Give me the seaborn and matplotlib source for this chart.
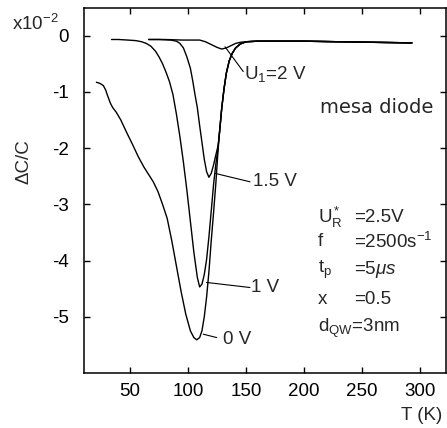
import matplotlib
matplotlib.use("Agg")
import matplotlib.pyplot as plt
import seaborn as sns
import pandas as pd

# ---- data ----
T_0V = [21, 24, 27, 29, 31, 33, 35, 38, 42, 47, 52, 57, 62, 66, 70, 74, 78, 82, 86, 90, 94, 98,
        102, 105, 107.5, 110, 112, 114, 116, 118, 120, 122, 124, 125.5, 127, 129, 131, 133, 135.5,
        138, 141, 145, 150, 160, 180, 200, 230, 260, 293]
C_0V = [-0.83, -0.85, -0.89, -0.97, -1.09, -1.20, -1.28, -1.36, -1.50, -1.72, -1.93, -2.15, -2.34,
        -2.47, -2.60, -2.77, -3.00, -3.25, -3.65, -4.10, -4.55, -4.95, -5.25, -5.37, -5.41, -5.37,
        -5.25, -5.00, -4.65, -4.20, -3.65, -3.15, -2.62, -2.15, -1.75, -1.30, -0.95, -0.67, -0.45,
        -0.32, -0.22, -0.15, -0.11, -0.10, -0.10, -0.10, -0.11, -0.12, -0.13]

T_1V = [34, 40, 48, 55, 60, 64, 68, 72, 75, 78, 81, 84, 87, 90, 93, 96, 99, 102, 105, 108, 110,
        112, 114, 116, 118, 120, 122, 124, 125.5, 127, 129, 131, 133, 135.5, 138, 141, 145, 150,
        160, 180, 200, 230, 260, 293]
C_1V = [-0.07, -0.07, -0.08, -0.09, -0.11, -0.14, -0.19, -0.28, -0.38, -0.50, -0.65, -0.82, -1.05,
        -1.40, -1.80, -2.25, -2.75, -3.30, -3.85, -4.30, -4.47, -4.42, -4.25, -3.98, -3.58, -3.12,
        -2.65, -2.28, -2.05, -1.75, -1.30, -0.95, -0.67, -0.45, -0.32, -0.22, -0.15, -0.11, -0.10,
        -0.10, -0.10, -0.11, -0.12, -0.13]

T_15V = [66, 75, 85, 90, 93, 96, 99, 102, 104, 106, 108, 110, 112, 114, 116, 118, 120, 122, 124,
         126, 127.5, 129, 131, 133, 135.5, 138, 141, 145, 150, 160, 180, 200, 230, 260, 293]
C_15V = [-0.07, -0.07, -0.08, -0.10, -0.14, -0.22, -0.38, -0.58, -0.80, -1.05, -1.28, -1.60, -1.90,
         -2.20, -2.42, -2.52, -2.45, -2.30, -2.12, -1.95, -1.65, -1.30, -0.95, -0.67, -0.45, -0.32,
         -0.22, -0.15, -0.11, -0.10, -0.10, -0.10, -0.11, -0.12, -0.13]

T_2V = [66, 80, 95, 110, 115, 121, 125, 129, 133, 137, 141, 145, 150, 160, 180, 200, 230, 260, 293]
C_2V = [-0.07, -0.07, -0.08, -0.08, -0.11, -0.17, -0.21, -0.24, -0.22, -0.18, -0.14, -0.12, -0.11,
        -0.10, -0.10, -0.10, -0.11, -0.12, -0.13]

curve_labels = ["0 V", "1 V", "1.5 V", "U$_1$=2 V"]
# leader lines: (start T, start C) -> (end T, end C), text position
leader_start = [(113.1, -5.31), (116.0, -4.39), (123.2, -2.45), (131.9, -0.20)]
leader_end = [(124.7, -5.37), (153.4, -4.48), (153.4, -2.60), (147.6, -0.64)]
label_pos = [(130.5, -5.41), (154.0, -4.48), (156.0, -2.60), (148.0, -0.68)]

x_ticks = [50, 100, 150, 200, 250, 300]
y_ticks = [-5, -4, -3, -2, -1, 0]

# ---- build long table ----
frames = []
for name, T, C in [("0V", T_0V, C_0V), ("1V", T_1V, C_1V), ("1.5V", T_15V, C_15V), ("2V", T_2V, C_2V)]:
    frames.append(pd.DataFrame({"T": T, "dC": C, "U": name}))
df = pd.concat(frames, ignore_index=True)

sns.set_style("ticks")
plt.rcParams["font.family"] = ["Liberation Sans", "DejaVu Sans"]
plt.rcParams["mathtext.fontset"] = "custom"
plt.rcParams["mathtext.rm"] = "Liberation Sans"
plt.rcParams["mathtext.it"] = "Liberation Sans:italic"
plt.rcParams["mathtext.default"] = "regular"

fig = plt.figure(figsize=(4.47, 4.28), dpi=100)
ax = fig.add_axes([84 / 447, 1 - 373 / 428, 362 / 447, 365 / 428])

sns.lineplot(data=df, x="T", y="dC", hue="U", units="U", estimator=None,
             palette=["black"] * 4, legend=False, linewidth=1.0, ax=ax)

ax.set_xlim(10.3, 322.4)
ax.set_ylim(-6.0, 0.49)
ax.set_xticks(x_ticks)
ax.set_yticks(y_ticks)
ax.set_xticklabels([str(v) for v in x_ticks])
ax.set_yticklabels([str(v) for v in y_ticks])
ax.set_xlabel("")
ax.set_ylabel("")
ax.tick_params(direction="in", length=4.5, width=1.0, top=True, right=True,
               labelsize=13.5, colors="black")
ax.tick_params(axis="y", pad=11)
ax.tick_params(axis="x", pad=7)
for s in ax.spines.values():
    s.set_linewidth(1.1)
    s.set_color("black")

for lab, s, e, p in zip(curve_labels, leader_start, leader_end, label_pos):
    ax.plot([s[0], e[0]], [s[1], e[1]], color="black", lw=0.8)
    ax.text(p[0], p[1], lab, fontsize=13.5, ha="left", va="center")

ax.text(320 / 447 * 0 + 0, 0, "", transform=ax.transAxes)

# annotations in figure pixel coordinates
def ftext(px, py, s, **kw):
    fig.text(px / 447, 1 - py / 428, s, **kw)

ftext(320, 108, "mesa diode", fontsize=14, family="DejaVu Sans", ha="left", va="center")
ftext(318, 217, "U$_R^*$", fontsize=13.5, ha="left", va="center")
ftext(354, 217, "=2.5V", fontsize=13.5, ha="left", va="center")
ftext(318, 242, "f", fontsize=13.5, ha="left", va="center")
ftext(354, 242, "=2500s$^{-1}$", fontsize=13.5, ha="left", va="center")
ftext(318, 270, "t$_p$", fontsize=13.5, ha="left", va="center")
ftext(354, 270, "=5$\\mathit{\\mu s}$", fontsize=13.5, ha="left", va="center")
ftext(318, 300, "x", fontsize=13.5, ha="left", va="center")
ftext(354, 300, "=0.5", fontsize=13.5, ha="left", va="center")
ftext(318, 328, "d$_{QW}$=3nm", fontsize=13.5, ha="left", va="center")
ftext(12, 24, "x10$^{-2}$", fontsize=13.5, ha="left", va="center")
ftext(24, 162, "ΔC/C", fontsize=13.5, rotation=90, ha="center", va="center")
ftext(442, 416, "T (K)", fontsize=13.5, ha="right", va="center")

fig.savefig("out.png", dpi=100)
